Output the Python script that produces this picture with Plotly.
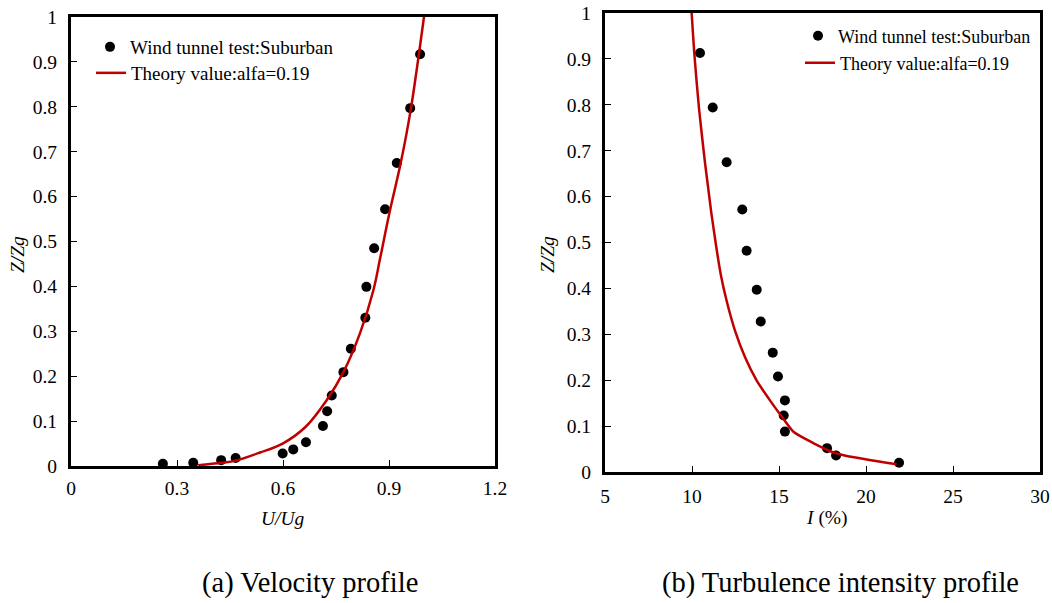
import plotly.graph_objects as go

W, H = 1052, 603

# ---- (a) Velocity profile ----
vel_u = [0.260, 0.346, 0.425, 0.466, 0.599, 0.629, 0.665, 0.713, 0.725, 0.738,
         0.771, 0.792, 0.833, 0.836, 0.858, 0.889, 0.922, 0.960, 0.988]
vel_z = [0.005, 0.007, 0.013, 0.018, 0.028, 0.037, 0.053, 0.089, 0.122, 0.157,
         0.209, 0.261, 0.330, 0.399, 0.485, 0.572, 0.675, 0.797, 0.917]
vel_theory_u = [0.360, 0.425, 0.466, 0.535, 0.599, 0.665, 0.724, 0.771, 0.818,
                0.856, 0.875, 0.903, 0.933, 0.962, 0.999, 1.004]
vel_theory_z = [0.0015, 0.007, 0.012, 0.030, 0.050, 0.088, 0.147, 0.209, 0.296,
                0.392, 0.463, 0.570, 0.674, 0.796, 1.000, 1.030]

# ---- (b) Turbulence intensity profile ----
turb_i = [10.46, 11.19, 11.99, 12.89, 13.14, 13.72, 13.95, 14.64, 14.94, 15.34,
          15.27, 15.34, 17.76, 18.28, 21.90]
turb_z = [0.913, 0.794, 0.675, 0.572, 0.482, 0.397, 0.328, 0.260, 0.208, 0.156,
          0.123, 0.088, 0.052, 0.036, 0.020]
turb_theory_i = [9.95, 9.98, 10.13, 10.40, 10.75, 10.88, 11.12, 11.40, 11.65, 11.99,
                 12.47, 13.05, 13.72, 14.48, 15.25, 15.85, 16.97, 18.10, 18.90, 21.76]
turb_theory_z = [1.020, 1.000, 0.913, 0.793, 0.673, 0.634, 0.562, 0.489, 0.431, 0.373,
                 0.308, 0.250, 0.199, 0.156, 0.116, 0.087, 0.063, 0.043, 0.035, 0.017]

legend_test = "Wind tunnel test:Suburban"
legend_theory = "Theory value:alfa=0.19"
caption_a = "(a) Velocity profile"
caption_b = "(b) Turbulence intensity profile"

FONT = "Liberation Serif, Times New Roman, serif"
RED = "#C00000"
FS = 19.5

fig = go.Figure()
fig.add_trace(go.Scatter(x=vel_u, y=vel_z, mode="markers", name=legend_test,
                         marker=dict(color="black", size=10), xaxis="x", yaxis="y",
                         legend="legend"))
fig.add_trace(go.Scatter(x=vel_theory_u, y=vel_theory_z, mode="lines", name=legend_theory,
                         line=dict(color=RED, width=2.5, shape="spline", smoothing=1.0),
                         xaxis="x", yaxis="y", legend="legend2"))
fig.add_trace(go.Scatter(x=turb_i, y=turb_z, mode="markers", name=legend_test,
                         marker=dict(color="black", size=10), xaxis="x2", yaxis="y2",
                         legend="legend3"))
fig.add_trace(go.Scatter(x=turb_theory_i, y=turb_theory_z, mode="lines", name=legend_theory,
                         line=dict(color=RED, width=2.5, shape="spline", smoothing=0.6),
                         xaxis="x2", yaxis="y2", legend="legend4"))

def px_x(p):
    return p / W

def px_y(p):
    return 1 - p / H

axis_common = dict(showline=True, linecolor="black", linewidth=3, mirror=True,
                   ticks="inside", ticklen=6, tickwidth=1, tickcolor="black",
                   showgrid=False, zeroline=False, automargin=False,
                   ticklabeloverflow="allow",
                   tickfont=dict(family=FONT, size=FS, color="black"))

def leg(x, y, size):
    return dict(x=px_x(x), y=px_y(y), font=dict(family=FONT, size=size, color="black"),
                bgcolor="rgba(0,0,0,0)", borderwidth=0,
                xanchor="left", yanchor="middle")

def label(text, x, y, size=FS, angle=0):
    return dict(text=text, x=px_x(x), y=px_y(y), xref="paper", yref="paper",
                xanchor="center", yanchor="middle", showarrow=False, textangle=angle,
                font=dict(family=FONT, size=size, color="black"))

fig.update_layout(
    width=W, height=H,
    margin=dict(l=0, r=0, t=0, b=0, autoexpand=False),
    paper_bgcolor="white", plot_bgcolor="white",
    showlegend=True,
    xaxis=dict(domain=[px_x(71), px_x(495)], range=[0, 1.2], dtick=0.3, tick0=0,
               anchor="y", ticklabelstandoff=3, **axis_common),
    yaxis=dict(domain=[px_y(466), px_y(17)], range=[0, 1], dtick=0.1, tick0=0,
               anchor="x", ticklabelstandoff=7, **axis_common),
    xaxis2=dict(domain=[px_x(605), px_x(1040)], range=[5, 30], dtick=5, tick0=5,
                anchor="y2", ticklabelstandoff=5, **axis_common),
    yaxis2=dict(domain=[px_y(472), px_y(13)], range=[0, 1], dtick=0.1, tick0=0,
                anchor="x2", ticklabelstandoff=7, **axis_common),
    legend=leg(90, 47, 19),
    legend2=leg(91, 73, 19),
    legend3=leg(798, 36, 18),
    legend4=leg(800, 63, 18),
    annotations=[
        label("<i>U/Ug</i>", 283, 518),
        label("<i>I</i> (%)", 827, 518),
        label("<i>Z/Zg</i>", 18, 255, angle=-90),
        label("<i>Z/Zg</i>", 548, 255, angle=-90),
        label(caption_a, 310, 583, size=28.5),
        label(caption_b, 840, 583, size=28.5),
    ],
)

# remove the default page margin so the figure sits at the window's top-left corner
fig.write_html(
    "out.html",
    config={"displayModeBar": False},
    post_script="document.body.style.margin='0';document.body.style.overflow='hidden';",
)
